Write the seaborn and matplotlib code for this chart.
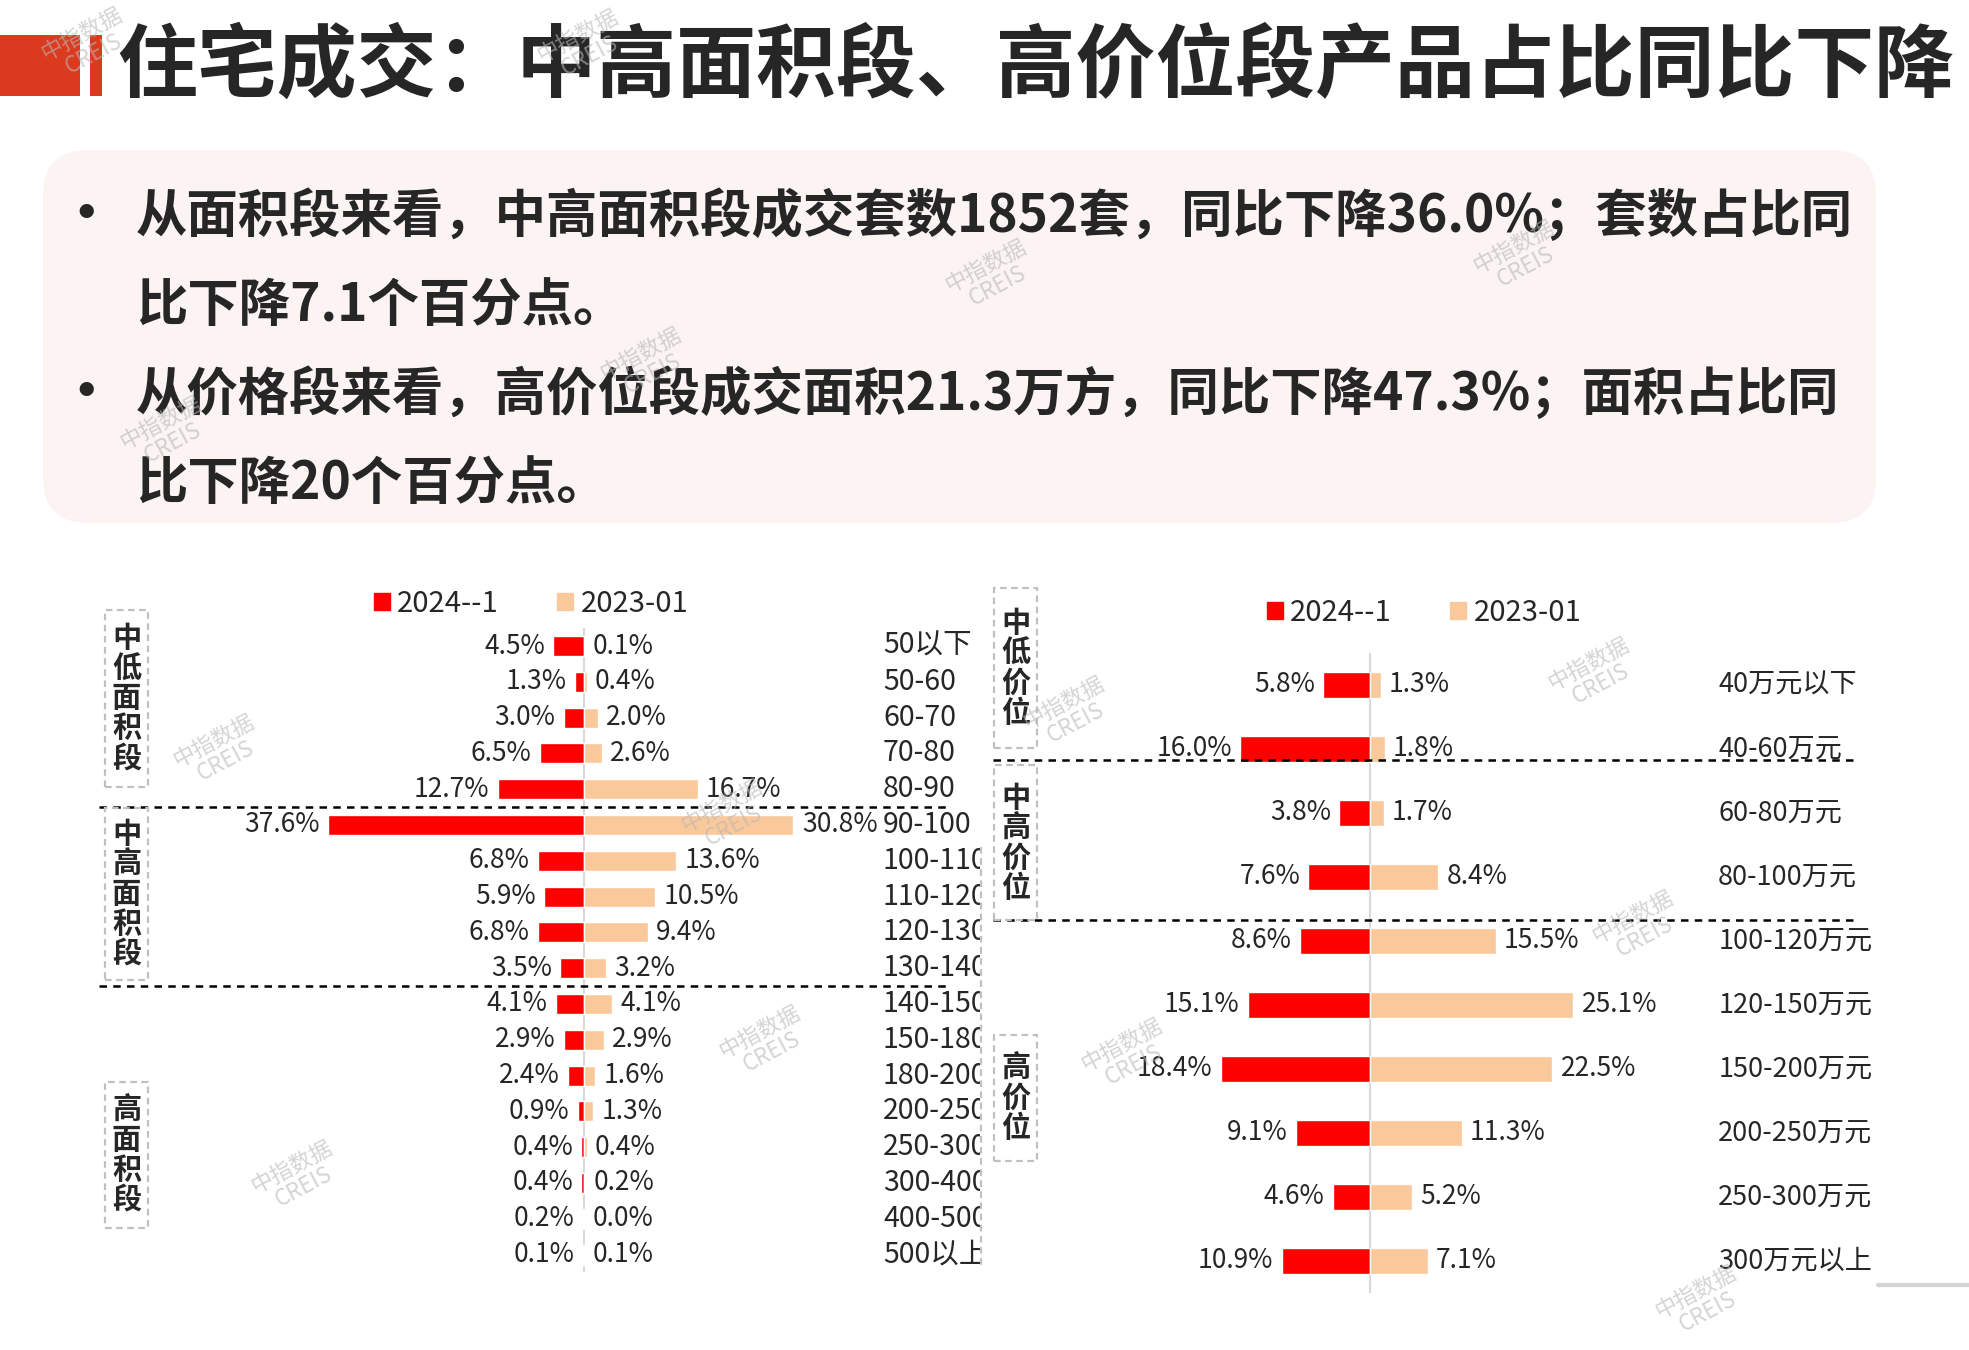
import pandas as pd
import matplotlib.pyplot as plt
import matplotlib.transforms as mtransforms
from matplotlib.patches import FancyBboxPatch, Rectangle, Patch
from matplotlib.lines import Line2D
import seaborn as sns

# ---- data ----
area_labels = ['50以下', '50-60', '60-70', '70-80', '80-90', '90-100',
               '100-110', '110-120', '120-130', '130-140', '140-150',
               '150-180', '180-200', '200-250', '250-300', '300-400',
               '400-500', '500以上']
area_2024 = [4.5, 1.3, 3.0, 6.5, 12.7, 37.6, 6.8, 5.9, 6.8, 3.5,
             4.1, 2.9, 2.4, 0.9, 0.4, 0.4, 0.2, 0.1]
area_2023 = [0.1, 0.4, 2.0, 2.6, 16.7, 30.8, 13.6, 10.5, 9.4, 3.2,
             4.1, 2.9, 1.6, 1.3, 0.4, 0.2, 0.0, 0.1]
area_groups = ['中低面积段', '中高面积段', '高面积段']

price_labels = ['40万元以下', '40-60万元', '60-80万元', '80-100万元',
                '100-120万元', '120-150万元', '150-200万元', '200-250万元',
                '250-300万元', '300万元以上']
price_2024 = [5.8, 16.0, 3.8, 7.6, 8.6, 15.1, 18.4, 9.1, 4.6, 10.9]
price_2023 = [1.3, 1.8, 1.7, 8.4, 15.5, 25.1, 22.5, 11.3, 5.2, 7.1]
price_groups = ['中低价位', '中高价位', '高价位']

series_names = ['2024--1', '2023-01']

title = '住宅成交：中高面积段、高价位段产品占比同比下降'
bullets = ['从面积段来看，中高面积段成交套数1852套，同比下降36.0%；套数占比同',
           '比下降7.1个百分点。',
           '从价格段来看，高价位段成交面积21.3万方，同比下降47.3%；面积占比同',
           '比下降20个百分点。']

RED = '#fe0000'
PEACH = '#f9c89b'
TITLE_RED = '#dc3a1e'
W, H = 1969, 1350

sns.set_theme(style='white')
plt.rcParams['font.family'] = ['Noto Sans CJK SC', 'DejaVu Sans']

fig = plt.figure(figsize=(W / 100, H / 100), dpi=100)
PX = mtransforms.IdentityTransform()


def X(x):
    return x / W


def Y(y):
    return 1 - y / H


def box_px(x0, y0, x1, y1):
    # axes rect from a pixel box (top-left origin)
    return [X(x0), Y(y1), (x1 - x0) / W, (y1 - y0) / H]


# ---- header ----
fig.add_artist(Rectangle((0, H - 96), 80, 61, transform=PX, color=TITLE_RED, lw=0))
fig.add_artist(Rectangle((90, H - 96), 12, 61, transform=PX, color=TITLE_RED, lw=0))
fig.text(X(117), Y(67), title, fontsize=57.5, fontweight='heavy', ha='left', va='center')

fig.add_artist(FancyBboxPatch((43, H - 523), 1833, 373, transform=PX,
                              boxstyle='round,pad=0,rounding_size=45',
                              fc='#fcf3f3', ec='none'))
for i, line in enumerate(bullets):
    yy = [216, 305, 394, 484][i]
    if i % 2 == 0:
        fig.text(X(86), Y(yy), '•', fontsize=40, fontweight='bold', ha='center', va='center')
    fig.text(X(136), Y(yy), line, fontsize=37, fontweight='bold', ha='left', va='center')


# ---- charts ----
def draw_chart(ax, labels, v_now, v_prev, bar_h, label_x, clip, dividers, cat_size):
    sns.barplot(x=[-v for v in v_now], y=labels, orient='h', color=RED,
                saturation=1, width=bar_h, errorbar=None, ax=ax, zorder=2)
    sns.barplot(x=v_prev, y=labels, orient='h', color=PEACH,
                saturation=1, width=bar_h, errorbar=None, ax=ax, zorder=2)
    ax.bar_label(ax.containers[0], labels=[f'{v:.1f}%' for v in v_now],
                 padding=6, fontsize=19)
    ax.bar_label(ax.containers[1], labels=[f'{v:.1f}%' for v in v_prev],
                 padding=6, fontsize=19)
    ax.vlines(0, -0.5, len(labels) - 0.5, color='#d9d9d9', lw=1.5, zorder=1)
    trans = mtransforms.blended_transform_factory(ax.transAxes, ax.transData)
    for i, lab in enumerate(labels):
        ax.text(label_x, i, lab, transform=trans, ha='left', va='center',
                fontsize=cat_size, clip_on=clip)
    for d, x0, x1 in dividers:
        ax.axhline(d, xmin=x0, xmax=x1, color='black', lw=1.8, ls=(0, (3, 2.5)))


# left: area segments
ax1 = fig.add_axes(box_px(98, 590, 980, 1300))
draw_chart(ax1, area_labels, area_2024, area_2023, 0.56, 0.89, True,
           [(4.5, 0.001, 0.966), (9.5, 0.001, 0.963)], 20.5)
ax1.set_xlim(-(584 - 98) / 6.8, (980 - 584) / 6.8)
ax1.set_ylim((1300 - 646) / 35.8, (590 - 646) / 35.8)
ax1.axis('off')

# right: price segments
ax2 = fig.add_axes(box_px(990, 590, 1860, 1320))
draw_chart(ax2, price_labels, price_2024, price_2023, 0.42, 0.837, False,
           [(1.17, 0.003, 0.997), (3.67, 0.003, 0.997)], 19.5)
ax2.set_xlim(-(1370 - 990) / 8.1, (1860 - 1370) / 8.1)
ax2.set_ylim((1320 - 685) / 64, (590 - 685) / 64)
ax2.axis('off')

# legends
handles = [Patch(color=RED), Patch(color=PEACH)]
for cx, cy in [(531, 604), (1424, 613)]:
    fig.legend(handles, series_names, loc='center', bbox_to_anchor=(X(cx), Y(cy)),
               ncol=2, frameon=False, fontsize=21, handlelength=0.55,
               handleheight=0.55, handletextpad=0.25, columnspacing=2.0,
               borderpad=0, borderaxespad=0)


# group boxes
def group_box(x0, y0, x1, y1, text):
    fig.add_artist(Rectangle((x0, H - y1), x1 - x0, y1 - y0, transform=PX, fill=False,
                             ec='#c0c0c0', lw=1.6, ls=(0, (3, 2))))
    fig.text(X((x0 + x1) / 2), Y((y0 + y1) / 2), '\n'.join(text), ha='center',
             va='center', fontsize=21, fontweight='bold', linespacing=1.0)


group_box(105, 610, 148, 787, area_groups[0])
group_box(105, 808, 148, 980, area_groups[1])
group_box(105, 1082, 148, 1228, area_groups[2])
group_box(994, 588, 1037, 748, price_groups[0])
group_box(994, 765, 1037, 920, price_groups[1])
group_box(994, 1035, 1037, 1161, price_groups[2])

fig.add_artist(Line2D([981, 981], [H - 847, H - 1267], transform=PX, color='#c0c0c0',
                      lw=1.6, ls=(0, (3, 2))))
fig.add_artist(Line2D([1878, 1969], [H - 1285, H - 1285], transform=PX,
                      color='#d4d4d4', lw=3))

# watermarks
marks = [(88, 44), (584, 46), (992, 276), (1520, 257), (647, 364), (167, 433),
         (220, 751), (728, 816), (1070, 713), (1595, 674), (766, 1042),
         (298, 1177), (1128, 1055), (1639, 927), (1702, 1302)]
for mx, my in marks:
    fig.text(X(mx), Y(my), '中指数据\nCREIS', fontsize=16, color='#b8b8b8', alpha=0.6,
             rotation=28, ha='center', va='center', linespacing=1.0, zorder=10)

fig.savefig('out.png', dpi=100)
